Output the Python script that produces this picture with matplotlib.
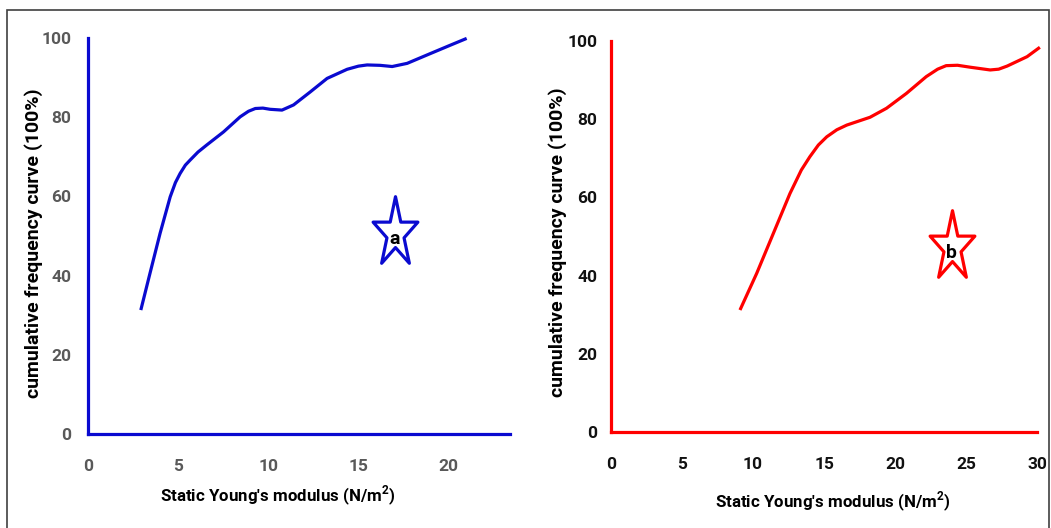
import numpy as np
import matplotlib.pyplot as plt
from matplotlib.path import Path
from matplotlib.patches import Rectangle

# values
x_a = [2.93, 3.44, 4.0, 4.56, 4.85, 5.11, 5.4, 5.67, 6.1, 6.59, 7.52, 8.44, 8.9, 9.28, 9.7,
       10.1, 10.76, 11.4, 12.33, 13.26, 14.37, 15.0, 15.48, 16.2, 16.87, 17.7, 19.0, 20.1, 21.0]
y_a = [31.3, 40.6, 50.7, 59.9, 63.5, 65.8, 67.9, 69.2, 71.2, 73.0, 76.3, 80.1, 81.5, 82.2, 82.3,
       82.0, 81.8, 83.1, 86.4, 89.8, 92.1, 92.9, 93.2, 93.1, 92.8, 93.6, 96.1, 98.2, 99.9]

x_b = [9.08, 10.26, 11.43, 12.6, 13.4, 14.0, 14.6, 15.19, 15.9, 16.6, 18.24, 19.4, 20.8,
       22.2, 23.0, 23.6, 24.4, 25.3, 26.7, 27.3, 27.9, 29.3, 30.2]
y_b = [31.2, 40.6, 50.8, 61.0, 67.0, 70.4, 73.4, 75.5, 77.3, 78.5, 80.5, 82.8, 86.6,
       90.9, 92.8, 93.7, 93.8, 93.3, 92.6, 92.8, 93.6, 96.0, 98.4]

ticks_a = [0, 5, 10, 15, 20]
ticks_b = [0, 5, 10, 15, 20, 25, 30]
yticks = [0, 20, 40, 60, 80, 100]

star_a = (17.0, 50.7, 'a')
star_b = (24.0, 47.4, 'b')

plt.rcParams['font.family'] = ['Roboto', 'DejaVu Sans']
plt.rcParams['mathtext.fontset'] = 'custom'
plt.rcParams['mathtext.bf'] = 'Roboto:bold'

# tall, narrow pentagram outline (as in the figure)
ang = np.pi / 2 + np.arange(10) * np.pi / 5
rad = np.where(np.arange(10) % 2 == 0, 1.0, 0.382)
verts = np.column_stack([rad * np.cos(ang) * 0.64, rad * np.sin(ang)])
verts = np.vstack([verts, verts[:1]])
star_path = Path(verts, closed=True)

fig = plt.figure(figsize=(10.51, 5.28), dpi=100)
fig.patches.append(Rectangle((0.007, -0.01), 0.991, 0.991, transform=fig.transFigure,
                             fill=False, edgecolor='#404040', linewidth=1.2))

panels = [
    dict(rect=[0.0837, 0.178, 0.4015, 0.75], x=x_a, y=y_a, col='#0a0ad0', xt=ticks_a,
         xlim=(0, 23.4), lab='#595959', star=star_a, ypad=12,
         ylc=(-0.107, 0.482), xlc=(0.45, -0.126)),
    dict(rect=[0.5814, 0.1818, 0.4053, 0.7405], x=x_b, y=y_b, col='#ff0000', xt=ticks_b,
         xlim=(0, 30), lab='#111111', star=star_b, ypad=10,
         ylc=(-0.103, 0.486), xlc=(0.52, -0.149)),
]

for p in panels:
    ax = fig.add_axes(p['rect'])
    ax.plot(p['x'], p['y'], color=p['col'], lw=2.3, clip_on=False,
            solid_capstyle='butt', solid_joinstyle='round')
    ax.set_xlim(*p['xlim'])
    ax.set_ylim(0, 100)
    for s in ['top', 'right']:
        ax.spines[s].set_visible(False)
    for s in ['left', 'bottom']:
        ax.spines[s].set_color(p['col'])
        ax.spines[s].set_linewidth(2.3)
    ax.set_xticks(p['xt'])
    ax.set_yticks(yticks)
    ax.tick_params(length=0, labelsize=12.5, labelcolor=p['lab'])
    ax.tick_params(axis='x', pad=18)
    ax.tick_params(axis='y', pad=p['ypad'])
    for t in ax.get_xticklabels() + ax.get_yticklabels():
        t.set_fontweight('bold')
    ax.set_ylabel('cumulative frequency curve (100%)', fontsize=14, fontweight='bold')
    ax.set_xlabel("Static Young's modulus (N/m$^\\mathbf{2}$)", fontsize=12.2, fontweight='bold')
    ax.yaxis.set_label_coords(*p['ylc'])
    ax.xaxis.set_label_coords(*p['xlc'])
    sx, sy, st = p['star']
    ax.plot(sx, sy, marker=star_path, ms=53, mfc='white', mec=p['col'], mew=2.3, clip_on=False)
    ax.text(sx, sy - 1.5, st, ha='center', va='center', fontsize=14, fontweight='bold', color='black')

fig.savefig('out.png', dpi=100)
